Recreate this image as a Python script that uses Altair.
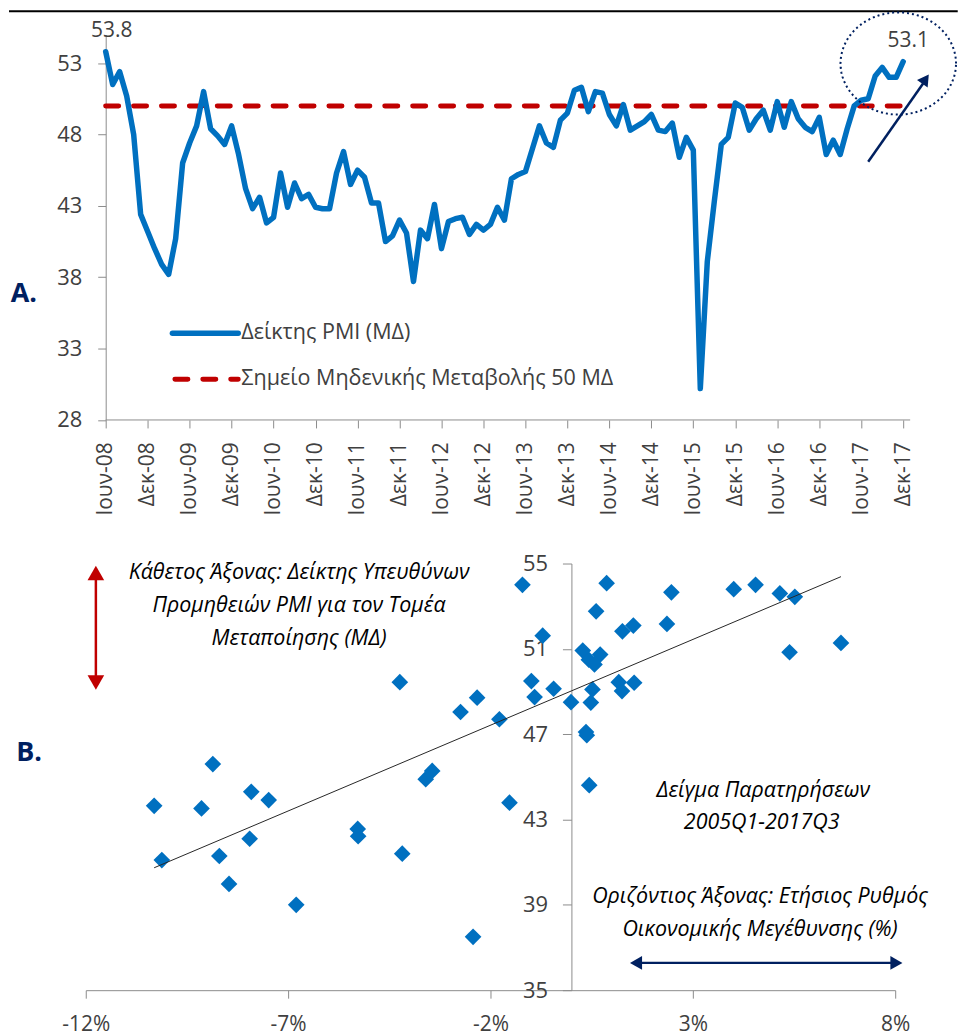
import altair as alt
import pandas as pd

# ---------------- Panel A: monthly manufacturing PMI, Jun-2008 .. Dec-2017 ----------------
pmi_monthly = [
    53.8, 51.5, 52.4, 50.7, 48.0, 42.4, 41.2, 40.0, 38.9, 38.2,
    40.7, 46.0, 47.4, 48.6, 51.0, 48.4, 47.9, 47.3, 48.6, 46.6,
    44.2, 42.8, 43.6, 41.8, 42.2, 45.3, 42.9, 44.6, 43.5, 43.8,
    42.9, 42.8, 42.8, 45.3, 46.8, 44.5, 45.5, 45.0, 43.2, 43.2,
    40.5, 40.9, 42.0, 41.1, 37.7, 41.3, 40.7, 43.1, 40.0, 41.9,
    42.1, 42.2, 41.0, 41.7, 41.3, 41.7, 42.9, 42.0, 44.9, 45.2,
    45.4, 47.0, 48.6, 47.4, 47.1, 49.0, 49.5, 51.1, 51.3, 49.6,
    51.0, 50.9, 49.4, 48.6, 50.1, 48.3, 48.6, 48.9, 49.4, 48.3,
    48.2, 48.8, 46.4, 47.8, 46.9, 30.2, 39.1, 43.3, 47.3, 47.8,
    50.2, 49.9, 48.3, 49.1, 49.7, 48.3, 50.3, 48.5, 50.3, 49.1,
    48.5, 48.2, 49.2, 46.6, 47.6, 46.6, 48.4, 50.0, 50.4, 50.5,
    52.1, 52.7, 52.0, 52.0, 53.1,
]
month_index = list(range(len(pmi_monthly)))
tick_months = list(range(0, 115, 6))
tick_labels = ["Ιουν-08", "Δεκ-08", "Ιουν-09", "Δεκ-09", "Ιουν-10", "Δεκ-10",
               "Ιουν-11", "Δεκ-11", "Ιουν-12", "Δεκ-12", "Ιουν-13", "Δεκ-13",
               "Ιουν-14", "Δεκ-14", "Ιουν-15", "Δεκ-15", "Ιουν-16", "Δεκ-16",
               "Ιουν-17", "Δεκ-17"]
y_ticks_a = [28, 33, 38, 43, 48, 53]
threshold_level = 50
legend_labels = ["Δείκτης PMI (ΜΔ)", "Σημείο Μηδενικής Μεταβολής 50 ΜΔ"]

# ---------------- Panel B: quarterly GDP growth vs PMI, 2005Q1 .. 2017Q3 ----------------
gdp_growth = [-1.21, 0.87, -0.71, 0.61, 2.47, 4.01, 4.55, 5.15, 5.52, 2.36,
              1.26, 1.53, 6.66, 5.39, 0.28, 0.71, 0.43, 0.57, -0.99, -0.91,
              -0.44, -0.01, 0.52, 0.48, 1.17, 1.25, 1.55, 0.36, 0.38, 0.44,
              -1.78, -1.53, -4.24, -2.33, -2.74, -3.44, -3.60, -8.86, -10.31, -9.14,
              -7.91, -7.48, -5.28, -5.27, -7.95, -10.12, -8.70, -8.46, -4.18, -6.80,
              -2.43]
pmi_quarterly = [54.0, 54.08, 51.62, 52.76, 53.65, 53.8, 54.0, 53.6, 53.44, 52.17,
                 51.82, 52.09, 51.28, 50.84, 50.92, 50.73, 50.49, 50.27, 49.49, 48.74,
                 49.13, 48.5, 49.1, 48.48, 49.44, 49.02, 49.41, 47.1, 46.95, 44.61,
                 47.7, 43.79, 49.44, 48.71, 48.04, 45.28, 44.89, 45.6, 43.64, 43.52,
                 44.3, 43.91, 42.56, 42.22, 42.1, 41.1, 41.29, 39.98, 41.4, 39.0,
                 37.5]
x_ticks_b = [-12, -7, -2, 3, 8]
y_ticks_b = [35, 39, 43, 47, 51, 55]
note_vertical = ["Κάθετος Άξονας: Δείκτης Υπευθύνων", "Προμηθειών PMI για τον Τομέα",
                 "Μεταποίησης (ΜΔ)"]
note_sample = ["Δείγμα Παρατηρήσεων", "2005Q1-2017Q3"]
note_horizontal = ["Οριζόντιος Άξονας: Ετήσιος Ρυθμός", "Οικονομικής Μεγέθυνσης (%)"]

# ---------------- styling / layout ----------------
FONT = "Open Sans"
BLUE = "#0070C0"
RED = "#C00000"
NAVY = "#002060"
GREY = "#8C8C8C"
TXT = "#404040"

PX_A, PY_A = 7.0175, 14.32
XA_DOM, YA_DOM = [-2.85, 114.5], [28, 55]
PX_B, PY_B = 40.6, 21.4
XB_DOM, YB_DOM = [-12, 8], [35, 55]

# highlight ellipse around the latest readings (centre / radii in data units)
ELL_CM, ELL_CV, ELL_RM, ELL_RV = 113.3, 52.97, 8.26, 3.58

sxA = alt.Scale(domain=XA_DOM, nice=False, zero=False)
syA = alt.Scale(domain=YA_DOM, nice=False, zero=False)
sxB = alt.Scale(domain=XB_DOM, nice=False, zero=False)
syB = alt.Scale(domain=YB_DOM, nice=False, zero=False)

label_expr_a = "[" + ",".join(f"'{t}'" for t in tick_labels) + "][round(datum.value/6)]"

axA_x = alt.Axis(values=tick_months, labelExpr=label_expr_a, labelAngle=-90, domain=False,
                 grid=False, tickSize=8, tickColor=GREY, labelPadding=14, labelFont=FONT,
                 labelFontSize=21, labelColor=TXT, title=None, labelOverlap=False)
axA_y = alt.Axis(values=y_ticks_a, offset=-20, grid=False, domainColor=GREY, tickColor=GREY,
                 tickSize=8, labelPadding=16, labelFont=FONT, labelFontSize=22,
                 labelColor=TXT, title=None)
axB_x = alt.Axis(values=x_ticks_b, labelExpr="datum.value + '%'", grid=False, domainColor=GREY,
                 tickColor=GREY, tickSize=8, labelPadding=15, labelFont=FONT, labelFontSize=21,
                 labelColor=TXT, title=None, labelFlush=False)
axB_y = alt.Axis(values=y_ticks_b, offset=-(0 - XB_DOM[0]) * PX_B, grid=False,
                 domainColor=GREY, tickColor=GREY, tickSize=9, labelPadding=15,
                 labelFont=FONT, labelFontSize=22, labelColor=TXT, title=None)


def XA(f="m"):
    return alt.X(f"{f}:Q", scale=sxA, axis=axA_x)


def YA(f="v"):
    return alt.Y(f"{f}:Q", scale=syA, axis=axA_y)


def XB(f="g"):
    return alt.X(f"{f}:Q", scale=sxB, axis=axB_x)


def YB(f="p"):
    return alt.Y(f"{f}:Q", scale=syB, axis=axB_y)


# ================= Panel A =================
dfA = pd.DataFrame({"m": month_index, "v": pmi_monthly})

line_a = alt.Chart(dfA).mark_line(
    color=BLUE, strokeWidth=5.5, strokeJoin="round", strokeCap="round"
).encode(x=XA(), y=YA())

thr = alt.Chart(pd.DataFrame({"m": [0], "m2": [114], "v": [threshold_level]})).mark_rule(
    color=RED, strokeWidth=5, strokeDash=[13, 15], strokeCap="round"
).encode(x=XA(), x2="m2:Q", y=YA())

xaxis_line = alt.Chart(pd.DataFrame({"m": [0], "m2": [115], "v": [YA_DOM[0]]})).mark_rule(
    color=GREY, strokeWidth=1
).encode(x=XA(), x2="m2:Q", y=YA())

top_rule = alt.Chart(pd.DataFrame({"m": [-13.82], "m2": [121.8], "v": [56.63]})).mark_rule(
    color="#000000", strokeWidth=2
).encode(x=XA(), x2="m2:Q", y=YA())

leg_line = alt.Chart(pd.DataFrame({"m": [9.54], "m2": [18.95], "v": [34.08]})).mark_rule(
    color=BLUE, strokeWidth=5.5, strokeCap="round"
).encode(x=XA(), x2="m2:Q", y=YA())
leg_dash = alt.Chart(pd.DataFrame({"m": [9.9], "m2": [18.95], "v": [30.86]})).mark_rule(
    color=RED, strokeWidth=5, strokeDash=[13, 15], strokeCap="round"
).encode(x=XA(), x2="m2:Q", y=YA())
leg_text = alt.Chart(pd.DataFrame({"m": [19.38, 19.38], "v": [34.08, 30.86],
                                   "t": legend_labels})).mark_text(
    align="left", baseline="middle", font=FONT, fontSize=21.6, color=TXT
).encode(x=XA(), y=YA(), text="t:N")

first_lbl = alt.Chart(pd.DataFrame({"m": [month_index[0]], "v": [pmi_monthly[0]],
                                    "t": [f"{pmi_monthly[0]:.1f}"]})).mark_text(
    dx=6, dy=-21, font=FONT, fontSize=21, color=TXT
).encode(x=XA(), y=YA(), text="t:N")
last_lbl = alt.Chart(pd.DataFrame({"m": [month_index[-1]], "v": [pmi_monthly[-1]],
                                   "t": [f"{pmi_monthly[-1]:.1f}"]})).mark_text(
    dx=5, dy=-21, font=FONT, fontSize=21, color=TXT
).encode(x=XA(), y=YA(), text="t:N")

ellipse = alt.Chart(alt.sequence(0, 365, 5, as_="deg")).transform_calculate(
    m=f"{ELL_CM} + {ELL_RM} * cos(datum.deg * PI / 180)",
    v=f"{ELL_CV} + {ELL_RV} * sin(datum.deg * PI / 180)",
).mark_line(
    stroke=NAVY, strokeWidth=2, strokeDash=[2, 3], strokeJoin="round", interpolate="linear"
).encode(x=XA(), y=YA(), order="deg:Q")

arrow_a = alt.Chart(pd.DataFrame({"m": [109.0], "m2": [117.0], "v": [46.09], "v2": [51.67]})).mark_rule(
    color=NAVY, strokeWidth=2.5
).encode(x=XA(), x2="m2:Q", y=YA(), y2="v2:Q")
arrow_a_head = alt.Chart(pd.DataFrame({"m": [117.2], "v": [51.88]})).mark_point(
    shape="triangle-up", angle=35, size=170, filled=True, color=NAVY, opacity=1
).encode(x=XA(), y=YA())

tag_a = alt.Chart(pd.DataFrame({"m": [-11.69], "v": [36.8], "t": ["A."]})).mark_text(
    font=FONT, fontSize=27, fontWeight="bold", color=NAVY, align="center", baseline="middle"
).encode(x=XA(), y=YA(), text="t:N")

panel_a = alt.layer(
    top_rule, xaxis_line, thr, line_a, leg_line, leg_dash, leg_text,
    first_lbl, last_lbl, ellipse, arrow_a, arrow_a_head, tag_a
).properties(width=(XA_DOM[1] - XA_DOM[0]) * PX_A, height=(YA_DOM[1] - YA_DOM[0]) * PY_A)

# ================= Panel B =================
dfB = pd.DataFrame({"g": gdp_growth, "p": pmi_quarterly})

pts = alt.Chart(dfB).mark_point(
    shape="diamond", filled=True, size=280, color=BLUE, opacity=1
).encode(x=XB(), y=YB())

trend = alt.Chart(dfB).transform_regression("g", "p").mark_line(
    color="#262626", strokeWidth=1
).encode(x=XB(), y=YB())

notes = pd.DataFrame({
    "g": [-6.73, -6.73, -6.73, 4.74, 4.70, 4.66, 4.66],
    "p": [54.57, 53.02, 51.48, 44.35, 42.84, 39.39, 37.84],
    "t": note_vertical + note_sample + note_horizontal,
})
notes_txt = alt.Chart(notes).mark_text(
    font=FONT, fontSize=21.5, fontStyle="italic", color="#000000", align="center",
    baseline="middle"
).encode(x=XB(), y=YB(), text="t:N")

v_arrow = alt.Chart(pd.DataFrame({"g": [-11.75], "p": [54.43], "p2": [49.52]})).mark_rule(
    color=RED, strokeWidth=2.5
).encode(x=XB(), y=YB(), y2="p2:Q")
v_heads = alt.Chart(pd.DataFrame({"g": [-11.75, -11.75], "p": [54.56, 49.42],
                                  "s": ["triangle-up", "triangle-down"]})).mark_point(
    filled=True, size=279, color=RED, opacity=1
).encode(x=XB(), y=YB(), shape=alt.Shape("s:N", scale=None, legend=None))

h_arrow = alt.Chart(pd.DataFrame({"g": [1.67], "g2": [7.95], "p": [36.28]})).mark_rule(
    color=NAVY, strokeWidth=2.5
).encode(x=XB(), x2="g2:Q", y=YB())
h_heads = alt.Chart(pd.DataFrame({"g": [1.596, 8.03], "p": [36.28, 36.28],
                                  "s": ["triangle-left", "triangle-right"]})).mark_point(
    filled=True, size=196, color=NAVY, opacity=1
).encode(x=XB(), y=YB(), shape=alt.Shape("s:N", scale=None, legend=None))

tag_b = alt.Chart(pd.DataFrame({"g": [-13.4], "p": [46.11], "t": ["B."]})).mark_text(
    font=FONT, fontSize=27, fontWeight="bold", color=NAVY, align="center", baseline="middle"
).encode(x=XB(), y=YB(), text="t:N")

panel_b = alt.layer(
    pts, trend, notes_txt, v_arrow, v_heads, h_arrow, h_heads, tag_b
).properties(width=(XB_DOM[1] - XB_DOM[0]) * PX_B, height=(YB_DOM[1] - YB_DOM[0]) * PY_B)

chart = alt.vconcat(panel_a, panel_b, spacing=143.66, bounds="flush").properties(
    padding=0, background="#ffffff"
).configure_view(strokeWidth=0)

chart.save("out.html", embed_options={"renderer": "svg", "actions": False})
